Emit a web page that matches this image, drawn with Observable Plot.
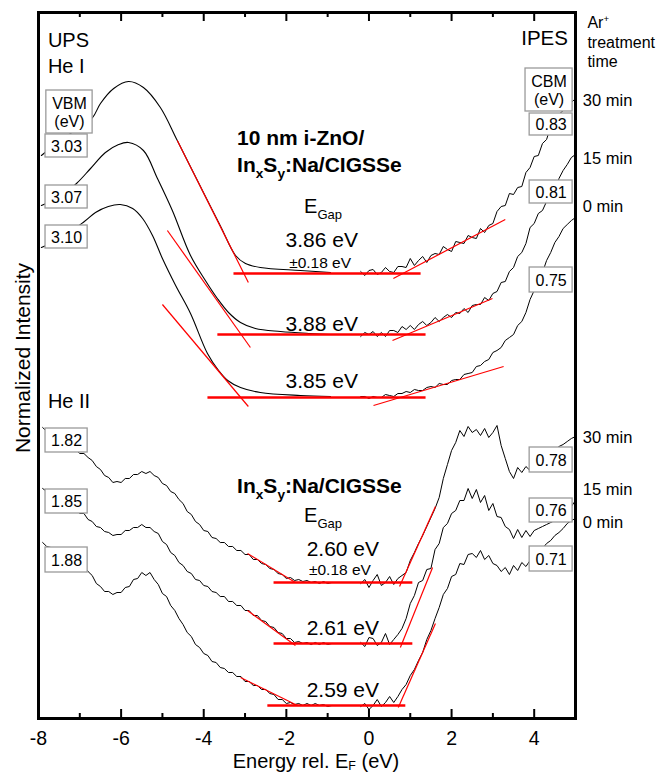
<!DOCTYPE html>
<html><head><meta charset="utf-8">
<script src="https://cdn.jsdelivr.net/npm/d3@7"></script>
<script src="https://cdn.jsdelivr.net/npm/@observablehq/plot@0.6"></script>
<style>
body{margin:0;background:#fff;}
svg{font-family:"Liberation Sans",Arial,Helvetica,sans-serif;}
</style></head><body><div id="chart"></div>
<script>
// ---------------- DATA ----------------
const treatment = ["30 min", "15 min", "0 min"];
const xMajorTicks = [-8, -6, -4, -2, 0, 2, 4];
const xMinorTicks = [-7, -5, -3, -1, 1, 3];

// UPS He I spectra (smooth), [energy eV, intensity a.u.]
const heI_UPS_30 = [[-7.93,56.3],[-7.47,57.8],[-6.98,59.2],[-6.69,60.1],[-6.50,61.5],[-6.18,63.0],[-5.82,63.7],[-5.46,63.1],[-5.05,61.1],[-4.64,57.8],[-4.08,53.2],[-3.59,49.2],[-3.23,46.3],[-2.99,45.5],[-2.63,45.1],[-1.66,44.8],[-0.93,44.6]];
const heI_UPS_15 = [[-7.93,51.3],[-7.47,52.2],[-7.08,53.5],[-6.74,55.0],[-6.38,56.6],[-6.06,57.4],[-5.82,57.6],[-5.46,56.8],[-5.12,54.0],[-4.76,50.8],[-4.32,46.3],[-3.96,43.8],[-3.67,42.0],[-3.40,40.6],[-3.11,39.6],[-2.75,39.0],[-2.14,38.7],[-1.42,38.5],[-0.93,38.4]];
const heI_UPS_0 = [[-7.93,47.1],[-7.47,48.0],[-6.89,49.7],[-6.62,50.6],[-6.31,51.2],[-6.02,51.4],[-5.72,51.0],[-5.48,50.0],[-5.24,48.3],[-5.00,46.0],[-4.68,43.3],[-4.32,40.5],[-3.91,36.5],[-3.64,34.8],[-3.42,33.8],[-3.11,33.1],[-2.63,32.6],[-1.66,32.3],[-0.93,32.2]];

// UPS He II spectra on an energy grid
const energyUPS2 = [-7.9,-7.8,-7.7,-7.6,-7.5,-7.4,-7.3,-7.2,-7.1,-7.0,-6.9,-6.8,-6.7,-6.6,-6.5,-6.4,-6.3,-6.2,-6.1,-6.0,-5.9,-5.8,-5.7,-5.6,-5.5,-5.4,-5.3,-5.2,-5.1,-5.0,-4.9,-4.8,-4.7,-4.6,-4.5,-4.4,-4.3,-4.2,-4.1,-4.0,-3.9,-3.8,-3.7,-3.6,-3.5,-3.4,-3.3,-3.2,-3.1,-3.0,-2.9,-2.8,-2.7,-2.6,-2.5,-2.4,-2.3,-2.2,-2.1,-2.0,-1.9,-1.8,-1.7,-1.6,-1.5,-1.4,-1.3,-1.2,-1.1,-1.0,-0.9];
const heII_UPS_30 = [29.1,28.7,28.6,28.1,28.0,27.5,27.4,26.9,26.9,26.5,26.5,26.1,25.8,25.2,24.9,24.3,24.1,23.6,23.7,23.6,24.0,24.0,24.4,24.4,24.7,24.5,24.7,24.3,24.1,23.5,23.3,22.7,22.5,21.9,21.5,20.7,20.4,19.7,19.4,18.8,18.7,18.1,18.0,17.6,17.6,17.2,17.2,16.8,16.8,16.4,16.4,15.9,15.9,15.5,15.4,15.0,14.9,14.5,14.4,14.0,14.1,13.8,13.9,13.7,13.8,13.6,13.7,13.5,13.7,13.5,13.6];
const heII_UPS_15 = [23.0,22.7,22.6,22.1,22.0,21.5,21.4,20.9,20.9,20.5,20.5,19.9,19.7,19.2,19.1,18.7,18.6,18.3,18.4,18.4,18.8,18.8,19.1,19.1,19.4,19.1,19.1,18.7,18.5,17.7,17.4,16.6,16.3,15.6,15.3,14.7,14.5,13.9,13.8,13.3,13.2,12.7,12.6,12.2,12.2,11.7,11.7,11.3,11.3,10.8,10.8,10.3,10.3,9.8,9.7,9.2,9.1,8.6,8.5,8.0,8.0,7.6,7.7,7.5,7.6,7.4,7.6,7.4,7.6,7.4,7.5];
const heII_UPS_0 = [17.6,17.2,17.1,16.6,16.5,16.0,16.0,15.6,15.6,15.2,15.2,14.7,14.3,13.5,13.2,12.7,12.7,12.4,12.6,12.6,13.1,13.2,13.9,14.0,14.6,14.3,14.6,13.9,13.4,12.5,12.2,11.3,10.8,10.0,9.4,8.6,8.2,7.4,7.1,6.5,6.3,5.7,5.6,5.1,5.0,4.6,4.6,4.2,4.2,3.7,3.7,3.3,3.3,2.9,2.9,2.5,2.4,1.9,1.9,1.5,1.6,1.4,1.5,1.3,1.5,1.3,1.5,1.3,1.4,1.2,1.3];

// IPES spectra on an energy grid
const energyIPES = [-0.2,-0.1,0.0,0.1,0.2,0.3,0.4,0.5,0.6,0.7,0.8,0.9,1.0,1.1,1.2,1.3,1.4,1.5,1.6,1.7,1.8,1.9,2.0,2.1,2.2,2.3,2.4,2.5,2.6,2.7,2.8,2.9,3.0,3.1,3.2,3.3,3.4,3.5,3.6,3.7,3.8,3.9,4.0,4.1,4.2,4.3,4.4,4.5,4.6,4.7,4.8,4.9,5.0];
const heI_IPES_30 = [44.7,44.3,44.8,44.9,44.4,44.6,45.1,44.7,44.6,45.2,45.2,45.1,46.0,45.3,45.8,46.2,45.6,46.3,46.5,46.4,47.2,46.9,46.7,47.7,47.6,47.5,48.3,48.1,48.0,49.0,48.6,49.3,49.5,50.7,51.2,51.3,52.5,52.4,53.1,53.2,54.6,55.1,56.2,56.3,57.5,57.9,59.2,59.3,60.4,60.8,61.4,61.6,62.0];
const heI_IPES_15 = [38.2,38.6,38.4,38.7,38.2,38.6,38.2,38.8,38.8,38.6,39.2,38.9,39.3,38.9,39.4,39.7,39.3,39.6,40.1,39.7,40.1,40.4,40.1,40.6,40.5,41.0,40.6,41.3,41.4,41.4,42.1,41.8,42.5,42.7,43.6,43.7,44.7,45.1,46.2,46.6,47.5,49.1,49.5,50.5,50.8,51.7,52.2,52.8,54.0,54.8,55.4,56.1,56.4];
const heI_IPES_0 = [32.2,32.2,32.0,32.2,32.1,32.1,32.4,32.3,32.2,32.5,32.5,32.7,32.6,32.9,32.8,32.8,33.1,33.2,33.1,33.5,33.4,33.4,33.8,33.9,33.9,34.4,34.5,34.6,35.2,35.3,35.7,35.9,36.6,36.8,37.1,37.8,38.1,38.4,39.3,39.7,40.6,41.9,42.8,43.9,44.6,45.8,46.6,47.6,48.2,49.0,49.4,49.8,50.1];
const heII_IPES_30 = [13.5,13.9,13.1,13.8,14.4,13.3,13.6,14.2,13.4,14.0,14.3,14.6,15.8,16.6,17.5,18.3,19.2,20.1,21.0,22.1,24.0,25.4,26.8,27.6,28.8,28.2,29.2,28.6,28.9,28.3,29.0,28.1,28.6,29.3,27.3,26.0,24.7,24.0,25.1,24.6,25.2,24.8,25.2,25.5,25.9,26.2,26.6,26.8,27.2,27.4,27.7,28.0,28.2];
const heII_IPES_15 = [7.6,7.2,8.1,8.0,7.3,7.6,8.5,7.4,7.9,8.4,9.0,10.0,11.5,12.3,13.6,13.8,14.9,15.0,16.9,17.5,19.1,19.5,20.5,20.8,21.8,21.8,23.0,22.0,22.9,21.6,22.3,20.8,21.5,20.2,20.1,19.2,18.9,18.0,18.9,18.1,18.8,18.2,18.8,19.0,19.2,19.4,19.6,19.8,20.0,20.3,20.6,21.2,21.8];
const heII_IPES_0 = [1.2,1.5,0.9,1.3,1.9,1.2,1.6,2.2,1.6,2.2,2.9,3.4,4.3,4.9,5.8,6.6,7.9,8.8,10.0,11.1,12.4,13.0,14.2,14.4,15.5,15.4,16.4,16.5,16.1,16.8,15.9,16.3,15.5,15.3,14.7,15.1,14.4,15.3,14.8,15.6,15.2,15.8,16.0,16.3,17.0,17.5,17.8,18.3,18.6,19.0,19.5,19.8,20.0];

// linear fits (edge tangents) and baselines
const fitsUPS = [[-4.64,57.8,-2.92,43.6],[-4.88,48.8,-2.87,37.1],[-5.00,41.4,-2.92,31.2],[-2.94,16.5,-1.78,13.6],[-2.94,10.8,-1.78,7.3],[-3.11,4.1,-1.73,1.3]];
const fitsIPES = [[0.59,44.0,3.30,49.9],[0.57,37.8,2.99,42.0],[0.11,31.3,3.26,35.2],[0.74,13.2,1.61,21.2],[0.76,7.1,1.54,15.1],[0.71,1.1,1.61,9.5]];
const baselines = [[-3.28,1.25,44.5],[-3.67,1.37,38.4],[-3.91,1.37,32.1],[-2.31,1.05,13.6],[-2.31,1.05,7.5],[-2.46,0.88,1.3]];

// band-edge values and gaps
const vbmHeI = ["3.03","3.07","3.10"];
const vbmHeII = ["1.82","1.85","1.88"];
const cbmHeI = ["0.83","0.81","0.75"];
const cbmHeII = ["0.78","0.76","0.71"];
const gapHeI = ["3.86 eV","3.88 eV","3.85 eV"];
const gapHeII = ["2.60 eV","2.61 eV","2.59 eV"];
const gapError = "±0.18 eV";

// ---------------- TABLES ----------------
const smoothRows = [];
[heI_UPS_30, heI_UPS_15, heI_UPS_0].forEach((s, k) => s.forEach(([E, I]) => smoothRows.push({E, I, series: "HeI UPS " + treatment[k]})));
const noisyRows = [];
[heII_UPS_30, heII_UPS_15, heII_UPS_0].forEach((s, k) => s.forEach((I, j) => noisyRows.push({E: energyUPS2[j], I, series: "HeII UPS " + treatment[k]})));
[heI_IPES_30, heI_IPES_15, heI_IPES_0].forEach((s, k) => s.forEach((I, j) => noisyRows.push({E: energyIPES[j], I, series: "HeI IPES " + treatment[k]})));
[heII_IPES_30, heII_IPES_15, heII_IPES_0].forEach((s, k) => s.forEach((I, j) => noisyRows.push({E: energyIPES[j], I, series: "HeII IPES " + treatment[k]})));
const fitRows = [...fitsUPS, ...fitsIPES].map(([x1, y1, x2, y2]) => ({x1, y1, x2, y2}));
const baseRows = baselines.map(([x1, x2, y]) => ({x1, x2, y}));

// box layout (data coordinates)
const leftX = [-7.83, -6.81], rightX = [3.89, 4.93];
const boxes = [
  {label: "VBM\n(eV)", x1: -7.81, x2: -6.69, y1: 58.5, y2: 62.8},
  {label: vbmHeI[0], x1: leftX[0], x2: leftX[1], y1: 56.1, y2: 58.4},
  {label: vbmHeI[1], x1: leftX[0], x2: leftX[1], y1: 51.0, y2: 53.3},
  {label: vbmHeI[2], x1: leftX[0], x2: leftX[1], y1: 47.0, y2: 49.3},
  {label: vbmHeII[0], x1: leftX[0], x2: leftX[1], y1: 26.6, y2: 29.0},
  {label: vbmHeII[1], x1: leftX[0], x2: leftX[1], y1: 20.5, y2: 22.9},
  {label: vbmHeII[2], x1: leftX[0], x2: leftX[1], y1: 14.6, y2: 17.1},
  {label: "CBM\n(eV)", x1: 3.79, x2: rightX[1], y1: 60.7, y2: 65.0},
  {label: cbmHeI[0], x1: rightX[0], x2: rightX[1], y1: 58.3, y2: 60.5},
  {label: cbmHeI[1], x1: rightX[0], x2: rightX[1], y1: 51.5, y2: 53.8},
  {label: cbmHeI[2], x1: rightX[0], x2: rightX[1], y1: 42.6, y2: 45.1},
  {label: cbmHeII[0], x1: rightX[0], x2: rightX[1], y1: 24.6, y2: 27.1},
  {label: cbmHeII[1], x1: rightX[0], x2: rightX[1], y1: 19.6, y2: 22.0},
  {label: cbmHeII[2], x1: rightX[0], x2: rightX[1], y1: 14.7, y2: 17.2}
];

// ---------------- PLOT ----------------
const chart = Plot.plot({
  width: 659, height: 773,
  marginLeft: 38, marginRight: 84, marginTop: 12, marginBottom: 55,
  style: {fontFamily: '"Liberation Sans", Arial, sans-serif', background: "#fff", color: "#000", overflow: "visible"},
  x: {domain: [-8, 5]},
  y: {domain: [0, 70.6], axis: null},
  marks: [
    Plot.line(smoothRows, {x: "E", y: "I", z: "series", stroke: "#000", strokeWidth: 1.1, curve: "catmull-rom"}),
    Plot.line(noisyRows, {x: "E", y: "I", z: "series", stroke: "#000", strokeWidth: 1.0}),
    Plot.link(fitRows, {x1: "x1", y1: "y1", x2: "x2", y2: "y2", stroke: "#ff0000", strokeWidth: 1.2}),
    Plot.link(baseRows, {x1: "x1", x2: "x2", y1: "y", y2: "y", stroke: "#ff0000", strokeWidth: 2.6}),
    Plot.rect(boxes, {x1: "x1", x2: "x2", y1: "y1", y2: "y2", fill: "#fff", stroke: "#9a9a9a", strokeWidth: 1.3}),
    Plot.text(boxes, {x: d => (d.x1 + d.x2) / 2, y: d => (d.y1 + d.y2) / 2, text: "label", fontSize: 16, lineHeight: 1.12, fill: "#000"}),
    Plot.ruleX(xMajorTicks, {x: d => d, y1: 0, y2: 0.9, stroke: "#000", strokeWidth: 2}),
    Plot.ruleX(xMajorTicks, {x: d => d, y1: 70.6, y2: 69.7, stroke: "#000", strokeWidth: 2}),
    Plot.ruleX(xMinorTicks, {x: d => d, y1: 0, y2: 0.5, stroke: "#000", strokeWidth: 2}),
    Plot.ruleX(xMinorTicks, {x: d => d, y1: 70.6, y2: 70.1, stroke: "#000", strokeWidth: 2}),
    Plot.frame({stroke: "#000", strokeWidth: 3}),
    Plot.axisX({ticks: xMajorTicks, tickSize: 0, tickPadding: 13, tickFormat: d => String(d), fontSize: 19.5, label: null})
  ]
});
document.getElementById("chart").appendChild(chart);

// ---------------- ANNOTATIONS ----------------
const xs = chart.scale("x"), ys = chart.scale("y");
const sx = d3.scaleLinear().domain(xs.domain).range(xs.range);
const sy = d3.scaleLinear().domain(ys.domain).range(ys.range);
const svg = d3.select(chart);
const g = svg.append("g").attr("fill", "#000");

function richText(E, I, parts, o = {}) {
  const size = o.size || 16;
  const X = sx(E), Y = sy(I);
  const t = g.append("text").attr("x", X).attr("y", Y)
    .attr("font-size", size).attr("font-weight", o.weight || "normal")
    .attr("text-anchor", o.anchor || "start");
  if (o.rotate) t.attr("transform", `rotate(-90 ${X} ${Y})`);
  let shift = 0;
  for (const p of parts) {
    const s = t.append("tspan");
    let target = 0, fs = size;
    if (typeof p === "object") {
      fs = size * (p.scale || 0.65);
      if (p.sub !== undefined) { target = size * (p.drop || 0.3); s.text(p.sub); }
      else { target = -size * 0.4; s.text(p.sup); }
    } else s.text(p);
    s.attr("font-size", fs);
    if (target - shift !== 0) s.attr("dy", target - shift);
    shift = target;
  }
}

const sample = ["In", {sub: "x"}, "S", {sub: "y"}, ":Na/CIGSSe"];

richText(-7.76, 67.1, ["UPS"], {size: 20});
richText(-7.76, 64.5, ["He I"], {size: 20});
richText(-7.76, 31.0, ["He II"], {size: 20});
richText(4.83, 67.3, ["IPES"], {size: 20.5, anchor: "end"});

richText(5.30, 69.0, ["Ar", {sup: "+", scale: 0.6}], {size: 16});
richText(5.30, 67.0, ["treatment"], {size: 16});
richText(5.30, 65.1, ["time"], {size: 16});
[61.2, 55.4, 50.6].forEach((I, k) => richText(5.19, I, [treatment[k]], {size: 16.5}));
[27.5, 22.3, 19.0].forEach((I, k) => richText(5.19, I, [treatment[k]], {size: 16.5}));

richText(-3.18, 57.3, ["10 nm i-ZnO/"], {size: 21, weight: "bold"});
richText(-3.18, 54.6, sample, {size: 21, weight: "bold"});
richText(-1.10, 50.5, ["E", {sub: "Gap"}], {size: 20, anchor: "middle"});
[47.1, 38.7, 33.0].forEach((I, k) => richText(-1.13, I, [gapHeI[k]], {size: 21, anchor: "middle"}));
richText(-1.17, 45.0, [gapError], {size: 15.5, anchor: "middle"});

richText(-3.18, 22.5, sample, {size: 21, weight: "bold"});
richText(-1.10, 19.6, ["E", {sub: "Gap"}], {size: 20, anchor: "middle"});
[16.2, 8.3, 2.1].forEach((I, k) => richText(-0.62, I, [gapHeII[k]], {size: 21, anchor: "middle"}));
richText(-0.69, 14.3, [gapError], {size: 15.5, anchor: "middle"});

// axis titles
richText(-1.27, -4.95, ["Energy rel. E", {sub: "F", drop: 0.14, scale: 0.62}, " (eV)"], {size: 20, anchor: "middle"});
richText(-8.19, 36.0, ["Normalized Intensity"], {size: 21, anchor: "middle", rotate: true});
</script></body></html>
